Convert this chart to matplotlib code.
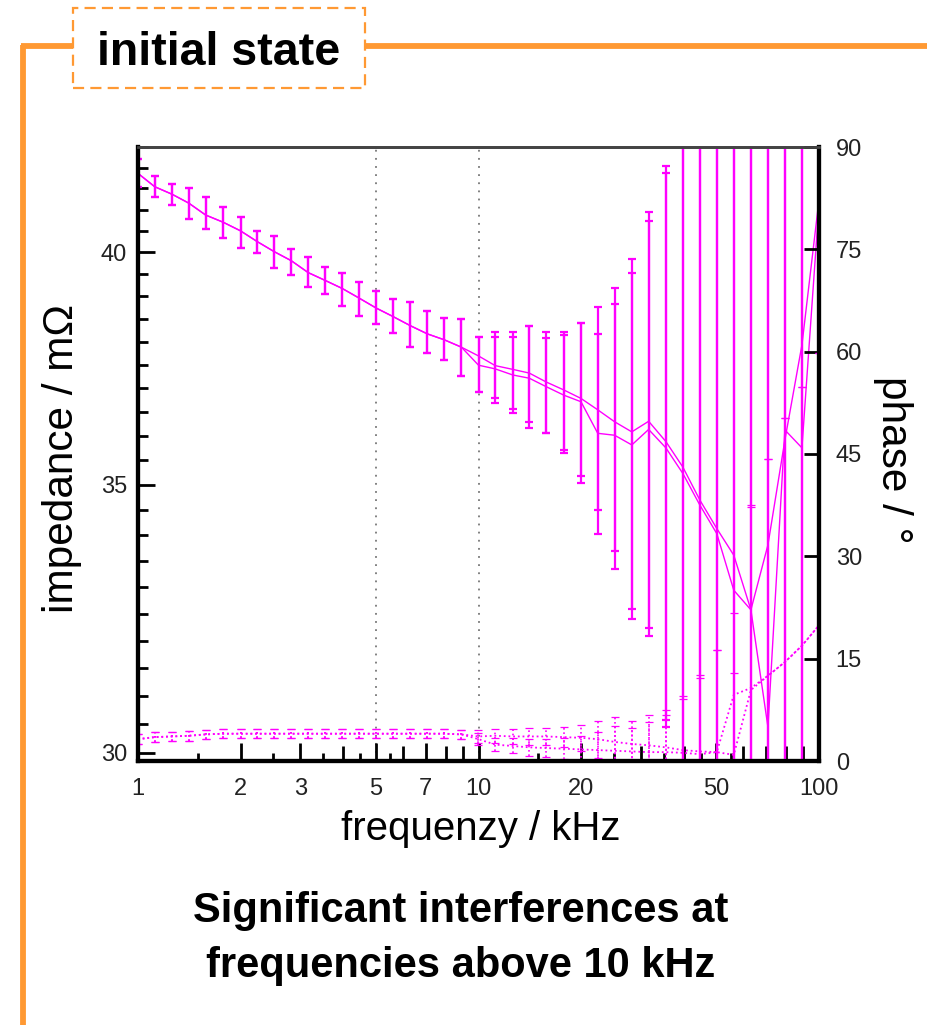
import numpy as np
import matplotlib
matplotlib.use('Agg')
from matplotlib import pyplot as plt
from matplotlib.lines import Line2D
from matplotlib.patches import Rectangle
from matplotlib.ticker import FixedLocator, NullFormatter

plt.rcParams['font.family'] = ['Liberation Sans', 'DejaVu Sans']
TICK_FONT = ['Liberation Sans Narrow', 'Liberation Sans', 'DejaVu Sans']
MAGENTA = '#ff00ff'
ORANGE = '#ff9933'

# frequencies in kHz, 20 points per decade
freq = np.array([1.0, 1.12, 1.26, 1.41, 1.58, 1.78, 2.0, 2.24, 2.51, 2.82,
                 3.16, 3.55, 3.98, 4.47, 5.01, 5.62, 6.31, 7.08, 7.94, 8.91,
                 10.0, 11.2, 12.6, 14.1, 15.8, 17.8, 20.0, 22.4, 25.1, 28.2,
                 31.6, 35.5, 39.8, 44.7, 50.1, 56.2, 63.1, 70.8, 79.4, 89.1, 100.0])

# impedance / mOhm, two measurements
z_low = [41.86, 41.54, 41.36, 41.15, 40.87, 40.70, 40.50, 40.25, 40.02, 39.81,
         39.54, 39.36, 39.18, 38.96, 38.74, 38.55, 38.35, 38.17, 38.04, 37.88]
z_a = np.array(z_low + [37.69, 37.48, 37.40, 37.32, 37.13, 36.96, 36.78, 36.54, 36.29, 36.08,
                        36.30, 35.88, 35.36, 34.69, 34.13, 33.61, 32.57, 33.81, 35.91, 37.93, 41.23])
z_b = np.array(z_low + [37.49, 37.41, 37.28, 37.21, 37.03, 36.85, 36.71, 36.05, 36.01, 35.81,
                        36.13, 35.75, 35.23, 34.59, 34.03, 32.94, 32.57, 30.45, 36.12, 35.75, 41.11])

# error bar ends (upper / lower) of the impedance
hi_low = [42.21, 41.80, 41.60, 41.51, 41.30, 41.07, 40.82, 40.50, 40.38, 40.07,
          39.90, 39.67, 39.52, 39.32, 39.13, 38.94, 38.87, 38.68, 38.53, 38.49]
lo_low = [41.53, 41.30, 41.10, 40.78, 40.54, 40.34, 40.10, 39.98, 39.64, 39.49,
          39.21, 39.06, 38.79, 38.56, 38.38, 38.20, 37.89, 37.75, 37.60, 37.26]
z_a_hi = np.array(hi_low + [38.11, 38.22, 38.22, 38.34, 38.22, 38.22, 38.42, 38.77, 39.18, 39.84,
                            40.95, 42.04, 48, 48, 48, 48, 48, 48, 48, 48, 48])
z_b_hi = np.array(hi_low + [38.11, 38.11, 38.11, 38.34, 38.07, 38.15, 38.42, 38.16, 38.83, 39.52,
                            40.74, 41.88, 48, 48, 48, 48, 48, 48, 48, 48, 48])
z_a_lo = np.array(lo_low + [36.91, 36.79, 36.55, 36.29, 36.05, 35.70, 35.17, 34.49, 33.69, 32.58,
                            32.24, 30.57, 27, 27, 27, 27, 27, 27, 27, 27, 27])
z_b_lo = np.array(lo_low + [36.91, 36.69, 36.48, 36.15, 36.05, 35.64, 35.04, 34.02, 33.34, 32.40,
                            32.08, 30.45, 27, 27, 27, 27, 27, 27, 27, 27, 27])

# phase / degree, two measurements
p_low = [3.2, 3.5, 3.6, 3.7, 3.9, 4.0, 4.0, 4.0, 4.0, 4.0,
         4.0, 4.0, 4.0, 4.0, 4.0, 4.0, 4.0, 4.0, 4.0, 3.9]
p_a = np.array(p_low + [3.6, 3.7, 3.6, 3.6, 3.6, 3.5, 3.4, 3.2, 2.8, 2.5,
                        2.3, 2.0, 1.6, 1.4, 1.3, 9.7, 10.7, 12.5, 14.5, 16.9, 19.9])
p_b = np.array(p_low + [3.2, 2.4, 2.2, 2.0, 1.9, 1.8, 1.7, 1.6, 1.5, 1.4,
                        1.3, 1.3, 1.2, 1.0, 1.3, 0.9, 10.4, 12.5, 14.5, 16.9, 19.9])
p_err = np.array([0.7] * 20 + [0.9, 1.0, 1.1, 1.2, 1.3, 1.5, 1.9, 2.7, 3.7, 3.4,
                               4.4, 5.5, 7.9, 11.2, 15.0, 12.0, 26.8, 31.8, 35.8, 37.9, 39.9])

xticks = [1, 2, 3, 5, 7, 10, 20, 50, 100]
xminor = [4, 6, 8, 9, 30, 40, 60, 70, 80, 90]
xhalf = [1.5, 2.5, 3.5, 4.5, 5.5, 15, 25, 35, 45, 55]
zticks = [30, 35, 40]
pticks = [0, 15, 30, 45, 60, 75, 90]

W, H = 927, 1025
fig = plt.figure(figsize=(W / 100, H / 100), dpi=100)


def fx(px):
    return px / W


def fy(py):
    return 1 - py / H


# orange frame and dashed title box
fig.add_artist(Line2D([fx(23), fx(23)], [fy(45), 0], transform=fig.transFigure,
                      color=ORANGE, lw=4.2, solid_capstyle='butt'))
fig.add_artist(Line2D([fx(20.5), fx(73)], [fy(45.5), fy(45.5)], transform=fig.transFigure,
                      color=ORANGE, lw=4.2, solid_capstyle='butt'))
fig.add_artist(Line2D([fx(365), 1], [fy(45.5), fy(45.5)], transform=fig.transFigure,
                      color=ORANGE, lw=4.2, solid_capstyle='butt'))
fig.add_artist(Rectangle((fx(73), fy(88)), fx(365) - fx(73), fy(8) - fy(88),
                         transform=fig.transFigure, fill=False, edgecolor=ORANGE,
                         lw=1.6, linestyle=(0, (5, 2.8))))
fig.text(fx(219), fy(65), 'initial state', ha='center', va='baseline',
         fontsize=33.5, fontweight='bold')

ax = fig.add_axes([fx(138), fy(761), fx(819) - fx(138), fy(147) - fy(761)])
ax.set_xscale('log')
ax.set_yscale('log')

ax.errorbar(freq, z_a, yerr=[z_a - z_a_lo, z_a_hi - z_a], color=MAGENTA, lw=1,
            elinewidth=1.6, capsize=3, capthick=1.6)
ax.errorbar(freq, z_b, yerr=[z_b - z_b_lo, z_b_hi - z_b], color=MAGENTA, lw=1,
            elinewidth=1.6, capsize=3, capthick=1.6)

for xv in (5, 10):
    ax.axvline(xv, color='#777777', lw=1.3, ls=(0, (1, 3.5)), zorder=0)

ax.set_xlim(1, 100)
ax.set_ylim(29.86, 42.5)
ax.xaxis.set_major_locator(FixedLocator(xticks))
ax.xaxis.set_minor_locator(FixedLocator(xminor))
ax.set_xticklabels([str(t) for t in xticks])
ax.xaxis.set_minor_formatter(NullFormatter())
ax.yaxis.set_major_locator(FixedLocator(zticks))
ax.yaxis.set_minor_locator(FixedLocator(np.arange(30.5, 42.6, 0.5)))
ax.set_yticklabels([str(t) for t in zticks])
ax.yaxis.set_minor_formatter(NullFormatter())

ax.tick_params(axis='x', which='major', direction='in', length=13, width=2,
               pad=12, labelsize=17, labelcolor='#222222')
ax.tick_params(axis='x', which='minor', direction='in', length=10.5, width=2)
ax.tick_params(axis='y', which='major', direction='in', length=12, width=2,
               pad=8, labelsize=17, labelcolor='#222222')
ax.tick_params(axis='y', which='minor', direction='in', length=7, width=2)
ax.tick_params(top=False, right=False, which='both')
ax.tick_params(labelfontfamily=TICK_FONT)

sec = ax.secondary_xaxis('bottom')
sec.xaxis.set_major_locator(FixedLocator(xhalf))
sec.xaxis.set_minor_locator(FixedLocator([]))
sec.xaxis.set_major_formatter(NullFormatter())
sec.tick_params(direction='in', length=5.5, width=2)
sec.spines['bottom'].set_visible(False)

for side in ('left', 'bottom', 'right'):
    ax.spines[side].set_linewidth(3)
ax.spines['top'].set_linewidth(2)
ax.spines['top'].set_color('#444444')

ax2 = ax.twinx()
for pv in (p_a, p_b):
    eb = ax2.errorbar(freq, pv, yerr=p_err, color=MAGENTA, lw=1.3, ls=(0, (1, 1.6)),
                      elinewidth=1.2, capsize=3, capthick=0.9)
    eb[2][0].set_linestyle((0, (1, 1.6)))
ax2.set_ylim(0, 90)
ax2.yaxis.set_major_locator(FixedLocator(pticks))
ax2.set_yticklabels([str(t) for t in pticks])
ax2.tick_params(axis='y', direction='in', length=11, width=2, pad=12,
                labelsize=17, labelcolor='#222222', labelfontfamily=TICK_FONT)
for side in ('left', 'bottom', 'right'):
    ax2.spines[side].set_linewidth(3)
ax2.spines['top'].set_linewidth(2)
ax2.spines['top'].set_color('#444444')

fig.text(fx(481), fy(840), 'frequenzy / kHz', ha='center', va='baseline', fontsize=29)
fig.text(fx(62), fy(458), 'impedance / m\u03a9', ha='center', va='center',
         rotation=90, fontsize=30.5)
fig.text(fx(893), fy(460), 'phase / \u00b0', ha='center', va='center',
         rotation=-90, fontsize=30.5)

fig.text(fx(461), fy(922), 'Significant interferences at', ha='center', va='baseline',
         fontsize=30, fontweight='bold')
fig.text(fx(461), fy(977), 'frequencies above 10 kHz', ha='center', va='baseline',
         fontsize=30, fontweight='bold')

fig.savefig('out.png', dpi=100)
